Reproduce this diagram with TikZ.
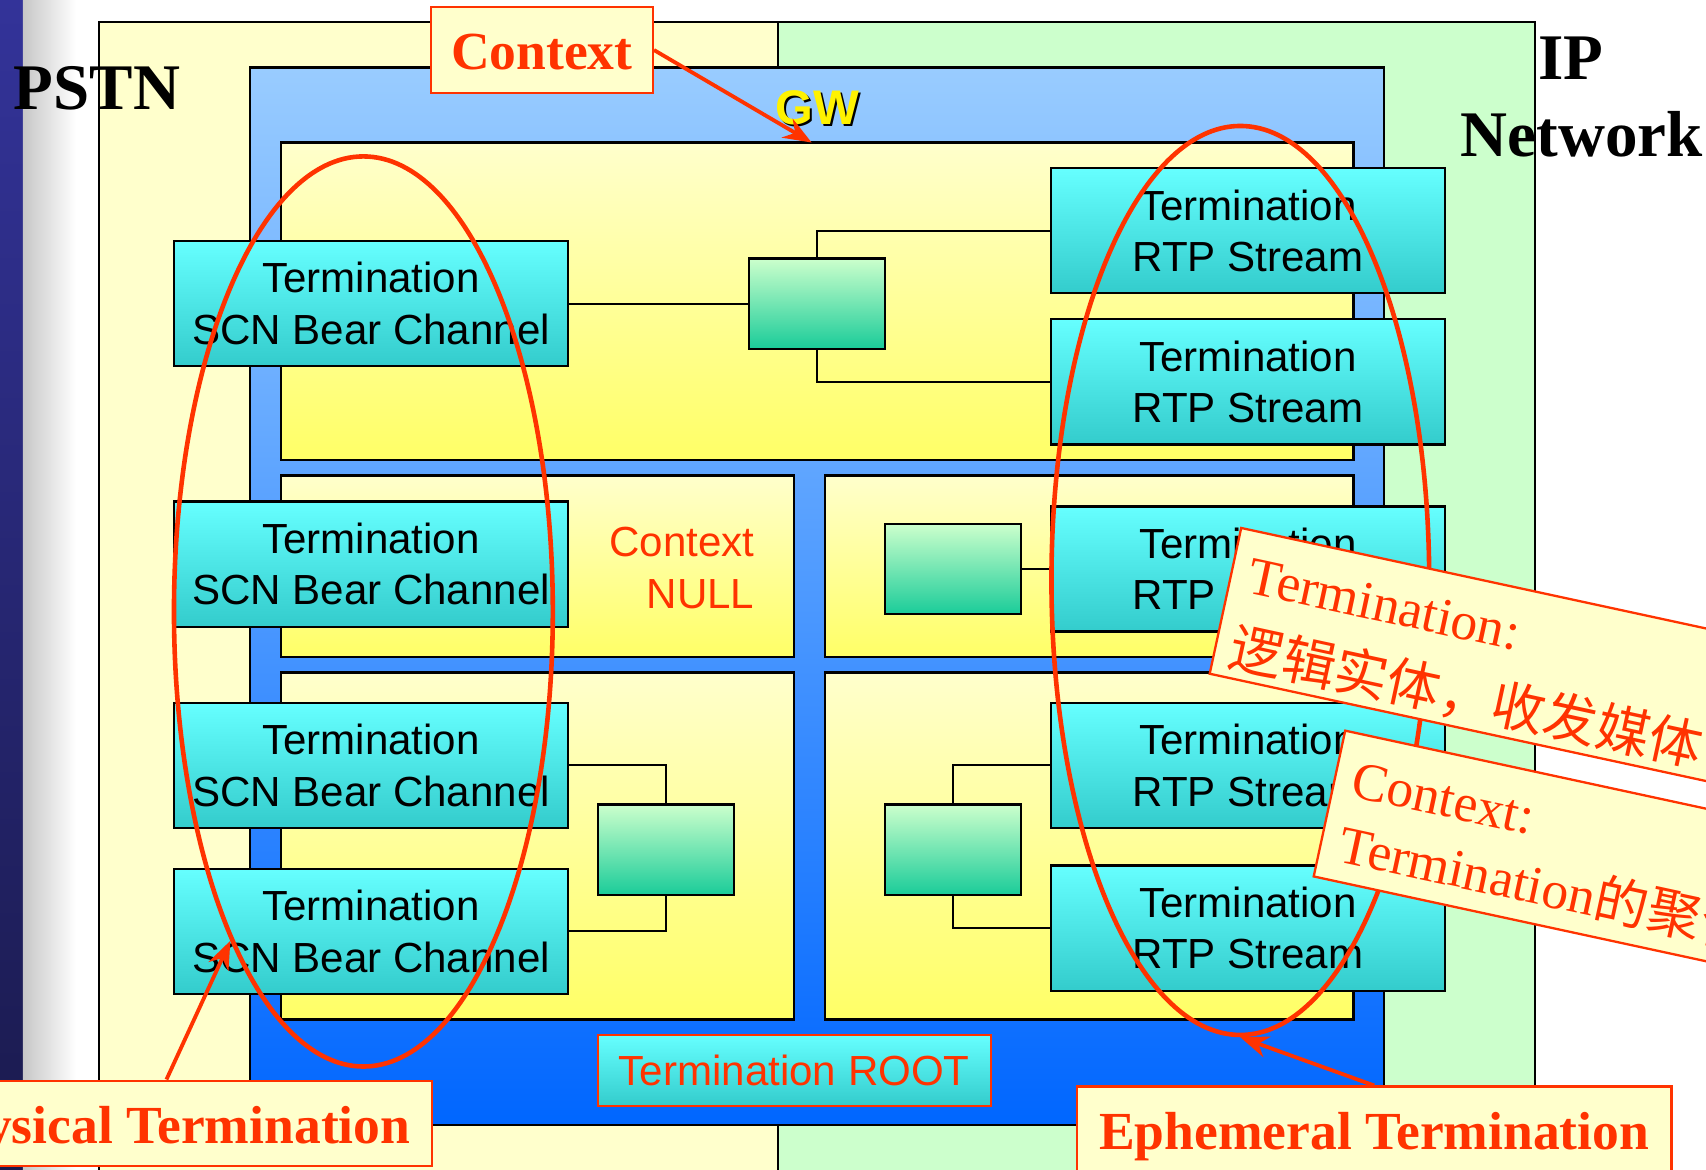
\documentclass[tikz,border=0pt]{standalone}
\usepackage{fontspec}
\setmainfont{Liberation Serif}
\setsansfont{Liberation Sans}
\newfontfamily\cjk{Noto Sans CJK SC}
\usetikzlibrary{arrows.meta,shapes.geometric}

\definecolor{mgred}{HTML}{FF3300}
\definecolor{noteyellow}{HTML}{FFFFCC}
\definecolor{netgreen}{HTML}{CCFFCC}
\definecolor{termtop}{HTML}{66FFFF}
\definecolor{termbottom}{HTML}{33CCCC}
\definecolor{ctxtop}{HTML}{FFFFCC}
\definecolor{ctxbottom}{HTML}{FFFF66}
\definecolor{gwtop}{HTML}{99CCFF}
\definecolor{gwbottom}{HTML}{0066FF}
\definecolor{swtop}{HTML}{CCFFCC}
\definecolor{swbottom}{HTML}{1ACC99}
\definecolor{barblue}{HTML}{333399}
\definecolor{bardark}{HTML}{1A1A4D}

\begin{document}
\begin{tikzpicture}[x=0.01cm,y=-0.01cm,
    termbox/.style={draw,line width=0.6pt,top color=termtop,bottom color=termbottom,
      minimum width=3.62cm,minimum height=1.15cm,inner sep=0pt,align=center,
      font=\sffamily\fontsize{11}{13.4}\selectfont},
    ctxbox/.style={draw,line width=0.6pt,top color=ctxtop,bottom color=ctxbottom},
    swbox/.style={draw,line width=0.6pt,top color=swtop,bottom color=swbottom,
      minimum width=1.25cm,minimum height=0.83cm,inner sep=0pt},
    wire/.style={line width=0.5pt},
    ring/.style={draw=mgred,line width=1.2pt,ellipse,inner sep=0pt},
    tagbox/.style={draw=mgred,line width=0.6pt,fill=noteyellow,text=mgred,inner sep=0pt,
      text height=0.575cm,text depth=0.21cm,minimum height=0.785cm,
      font=\bfseries\fontsize{14}{16}\selectfont},
    tagarrow/.style={draw=mgred,line width=1pt,-{Stealth[length=0.26cm,width=0.2cm]}},
    notebox/.style={draw=mgred,line width=0.6pt,fill=noteyellow,inner sep=0pt,anchor=north west,
      minimum width=6.2cm,minimum height=1.37cm},
    notetext/.style={text=mgred,inner sep=0pt,anchor=base west,font=\fontsize{14}{16}\selectfont},
    bigword/.style={inner sep=0pt,anchor=base west,font=\bfseries\fontsize{17}{20}\selectfont}]
  \useasboundingbox (0,0) rectangle (1568,1075);
  \def\lx{341}
  \def\rx{1147}

  \shade[top color=barblue,bottom color=bardark] (0,0) rectangle (21,1075);
  \shade[left color=black!22,right color=white] (21,0) rectangle (70,1075);

  \draw[line width=0.6pt,fill=noteyellow] (91,20) rectangle (715,1100);
  \draw[line width=0.6pt,fill=netgreen] (715,20) rectangle (1411,1100);
  \draw[line width=0.6pt,top color=gwtop,bottom color=gwbottom] (230,62) rectangle (1272,1034);

  \foreach \xa/\ya/\xb/\yb in {258/131/1244/423,258/437/730/604,758/437/1244/604,
                               258/618/730/937,758/618/1244/937} {
    \draw[ctxbox] (\xa,\ya) rectangle (\xb,\yb);
  }
  \coordinate (ctxtip) at (746,131);

  \node[swbox] (sw1) at (751,279) {};
  \node[swbox] (sw2) at (876,523) {};
  \node[swbox] (sw3) at (612,781) {};
  \node[swbox] (sw4) at (876,781) {};

  \foreach \k/\y in {1/279,2/518.5,3/703.5,4/856} {
    \node[termbox] (scn\k) at (\lx,\y) {Termination\\SCN Bear Channel};
  }
  \foreach \k/\y in {1/212,2/351,3/523,4/703.5,5/853} {
    \node[termbox] (rtp\k) at (\rx,\y) {Termination\\RTP Stream};
  }

  \draw[wire] (scn1.east) -- (sw1.west);
  \draw[wire] (sw1.north) |- (rtp1.west);
  \draw[wire] (sw1.south) |- (rtp2.west);
  \draw[wire] (sw2.east) -- (rtp3.west);
  \draw[wire] (scn3.east) -| (sw3.north);
  \draw[wire] (sw3.south) |- (scn4.east);
  \draw[wire] (sw4.north) |- (rtp4.west);
  \draw[wire] (sw4.south) |- (rtp5.west);

  \node[text=mgred,align=right,anchor=east,inner sep=0pt,
    font=\sffamily\fontsize{11}{13.4}\selectfont] (ctxnull) at (694,522) {Context\\NULL};
  \node[termbox,draw=mgred,text=mgred,minimum width=3.61cm,minimum height=0.65cm]
    (root) at (730,984) {Termination ROOT};

  \node[inner sep=0pt,anchor=base,font=\sffamily\bfseries\fontsize{12.7}{14}\selectfont]
    (gwshadow) at (753,116) {GW};
  \node[inner sep=0pt,anchor=base,text=yellow,font=\sffamily\bfseries\fontsize{12.7}{14}\selectfont]
    (gw) at (751,114) {GW};

  \node[bigword] (pstn) at (12,101) {PSTN};
  \node[bigword] (ip) at (1413,73.5) {IP};
  \node[bigword] (net) at (1342,143.5) {Network};

  \node[ring,minimum width=3.48cm,minimum height=8.36cm] (ringL) at (334,562) {};
  \node[ring,minimum width=3.47cm,minimum height=8.35cm] (ringR) at (1140,533.5) {};

  \node[tagbox,minimum width=2.04cm] (ctxtag) at (498,46) {Context};
  \node[tagbox,minimum width=4.88cm] (phystag) at (153,1032.5) {Physical Termination};
  \node[tagbox,minimum width=5.46cm] (ephtag) at (1263,1038) {Ephemeral Termination};
  \draw[tagarrow] (ctxtag.east) -- (ctxtip);
  \draw[tagarrow] (phystag.north) -- (ringL.248);
  \draw[tagarrow] (ephtag.north) -- (ringR.south);

  \begin{scope}[shift={(1140,484)},rotate=-12.2,transform shape]
    \node[notebox] (noteA) at (0,0) {};
    \node[notetext] (noteAa) at (17,58) {Termination:};
    \node[notetext] (noteAb) at (14,127) {\cjk 逻辑实体，收发媒体};
  \end{scope}
  \begin{scope}[shift={(1235.6,670.3)},rotate=-12.2,transform shape]
    \node[notebox] (noteB) at (0,0) {};
    \node[notetext] (noteBa) at (17,59) {Context:};
    \node[notetext] (noteBb) at (18,120) {Termination{\cjk 的聚合}};
  \end{scope}
\end{tikzpicture}
\end{document}
